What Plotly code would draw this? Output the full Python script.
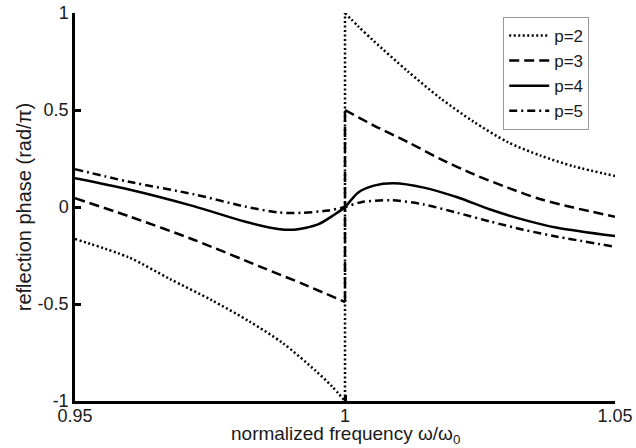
import plotly.graph_objects as go

# normalized frequency (w/w0) and reflection phase (rad/pi) for each p
# p=2 and p=3 jump at w/w0 = 1, so they are kept as a left and a right branch
p2_left_x = [0.95, 0.96, 0.9675, 0.9753, 0.9823, 0.9884, 0.9946, 0.9976, 1.0]
p2_left_y = [-0.165, -0.26, -0.37, -0.48, -0.59, -0.70, -0.845, -0.925, -1.0]
p2_right_x = [1.0, 1.0025, 1.00535, 1.0116, 1.0177, 1.0238, 1.0301, 1.0362, 1.0423, 1.05]
p2_right_y = [1.0, 0.93, 0.855, 0.70, 0.56, 0.44, 0.335, 0.265, 0.21, 0.16]

p3_left_x = [0.95, 0.96, 0.9721, 0.9845, 0.9925, 1.0]
p3_left_y = [0.045, -0.048, -0.17, -0.31, -0.40, -0.49]
p3_right_x = [1.0, 1.00535, 1.0116, 1.0177, 1.0238, 1.0301, 1.0362, 1.0423, 1.05]
p3_right_y = [0.5, 0.42, 0.335, 0.247, 0.169, 0.10, 0.04, -0.003, -0.05]

p4_x = [0.95, 0.96, 0.9721, 0.9814, 0.9876, 0.9906, 0.9950, 0.9980, 1.0,
        1.0024, 1.00535, 1.0090, 1.0146, 1.0208, 1.0269, 1.0330, 1.0393, 1.05]
p4_y = [0.148, 0.09, 0.003, -0.075, -0.113, -0.117, -0.09, -0.04, 0.0,
        0.074, 0.11, 0.122, 0.10, 0.05, -0.013, -0.065, -0.107, -0.15]

p5_x = [0.95, 0.96, 0.9721, 0.9814, 0.9876, 0.9919, 0.9969, 1.0,
        1.0030, 1.0085, 1.0146, 1.0208, 1.0269, 1.0330, 1.0393, 1.05]
p5_y = [0.195, 0.13, 0.065, 0.003, -0.028, -0.03, -0.018, 0.0,
        0.025, 0.035, 0.013, -0.03, -0.075, -0.117, -0.153, -0.205]

x_ticks = [0.95, 1.0, 1.05]
x_tick_text = ["0.95", "1", "1.05"]
y_ticks = [-1, -0.5, 0, 0.5, 1]
y_tick_text = ["-1", "-0.5", "0", "0.5", "1"]

DOT = "2px,2.5px"
DASH = "10px,5px"
DASHDOT = "8px,4px,2px,4px"
LW = 2.5
TXT = "#1a1a1a"

fig = go.Figure()


def add_branches(name, lx, ly, rx, ry, dash):
    # left branch, vertical jump at w/w0 = 1, right branch
    fig.add_trace(go.Scatter(x=lx, y=ly, mode="lines", name=name, legendgroup=name,
                             line=dict(color="black", width=LW, dash=dash, shape="spline", smoothing=0.8)))
    fig.add_trace(go.Scatter(x=[lx[-1], rx[0]], y=[ly[-1], ry[0]], mode="lines", name=name,
                             legendgroup=name, showlegend=False,
                             line=dict(color="black", width=LW, dash=dash)))
    fig.add_trace(go.Scatter(x=rx, y=ry, mode="lines", name=name, legendgroup=name, showlegend=False,
                             line=dict(color="black", width=LW, dash=dash, shape="spline", smoothing=0.8)))


add_branches("p=2", p2_left_x, p2_left_y, p2_right_x, p2_right_y, DOT)
add_branches("p=3", p3_left_x, p3_left_y, p3_right_x, p3_right_y, DASH)
fig.add_trace(go.Scatter(x=p4_x, y=p4_y, mode="lines", name="p=4",
                         line=dict(color="black", width=LW, shape="spline", smoothing=0.8)))
fig.add_trace(go.Scatter(x=p5_x, y=p5_y, mode="lines", name="p=5",
                         line=dict(color="black", width=LW, dash=DASHDOT, shape="spline", smoothing=0.8)))

axis_common = dict(
    showline=True, linecolor="black", linewidth=2.5,
    ticks="inside", ticklen=6, tickwidth=2.5, tickcolor="black",
    showgrid=False, zeroline=False, mirror=False,
    tickfont=dict(size=18, color=TXT),
)

fig.update_xaxes(range=[0.95, 1.05], tickvals=x_ticks, ticktext=x_tick_text,
                 ticklabelstandoff=-3, **axis_common)
fig.update_yaxes(range=[-1, 1], tickvals=y_ticks, ticktext=y_tick_text, **axis_common)

# axis labels
fig.add_annotation(text="normalized frequency ω/ω<sub>0</sub>", xref="paper", yref="paper",
                   x=0.5, y=-0.051, xanchor="center", yanchor="top",
                   showarrow=False, font=dict(size=19, color=TXT))
fig.add_annotation(text="reflection phase (rad/π)", xref="paper", yref="paper",
                   x=-0.094, y=0.5, xanchor="center", yanchor="middle", textangle=-90,
                   showarrow=False, font=dict(size=20, color=TXT))

fig.update_layout(
    width=636, height=448,
    margin=dict(l=75, r=21, t=13, b=47, autoexpand=False),
    plot_bgcolor="white", paper_bgcolor="white",
    font=dict(family="Liberation Sans, Arial, sans-serif", size=18, color=TXT),
    legend=dict(x=0.793, y=0.99, xanchor="left", yanchor="top",
                bgcolor="white", bordercolor="#999", borderwidth=1,
                font=dict(size=17), tracegroupgap=0, itemwidth=40),
    showlegend=True,
)

fig.write_html("out.html")
